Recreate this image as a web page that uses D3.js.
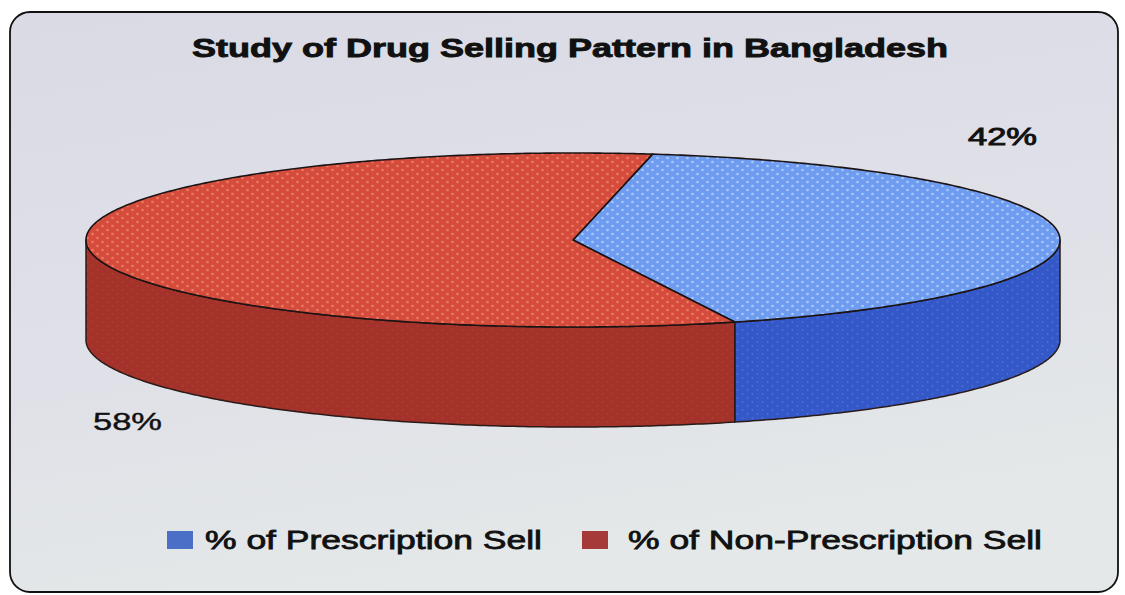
<!DOCTYPE html>
<html>
<head>
<meta charset="utf-8">
<script src="https://cdn.jsdelivr.net/npm/d3@7/dist/d3.min.js"></script>
<style>
  html, body { margin: 0; padding: 0; background: #ffffff; }
  svg { display: block; }
  text { font-family: "Liberation Sans", Arial, sans-serif; fill: #111; }
</style>
</head>
<body>
<svg id="chart" width="1125" height="595"></svg>
<script>
// Chart data
const title = "Study of Drug Selling Pattern in Bangladesh";
const categories = ["% of Prescription Sell", "% of Non-Prescription Sell"];
const values = [42, 58];
const valueLabels = ["42%", "58%"];

// Slice styling: top face, side face, dot highlight, legend swatch
const topColors = ["#6e9cf0", "#d64c3c"];
const sideColors = ["#3458c8", "#a2322a"];
const dotColors = ["#b4cff8", "#ea8166"];
const swatchColors = ["#4b6fc6", "#a63a38"];

const W = 1125, H = 595;
const svg = d3.select("#chart");
const defs = svg.append("defs");

// Panel background
const bg = defs.append("linearGradient").attr("id", "bgGrad")
  .attr("x1", 0).attr("y1", 0).attr("x2", 0.3).attr("y2", 1);
bg.append("stop").attr("offset", "0%").attr("stop-color", "#d9dae4");
bg.append("stop").attr("offset", "55%").attr("stop-color", "#dfe0e8");
bg.append("stop").attr("offset", "100%").attr("stop-color", "#e4e8e8");

svg.append("rect")
  .attr("x", 10).attr("y", 12).attr("width", 1108).attr("height", 580)
  .attr("rx", 20).attr("ry", 20)
  .attr("fill", "url(#bgGrad)")
  .attr("stroke", "#111").attr("stroke-width", 1.8);

// Dotted fill patterns for the pie faces
function dotPattern(id, base, dot, r, op) {
  const p = defs.append("pattern").attr("id", id)
    .attr("patternUnits", "userSpaceOnUse")
    .attr("width", 10).attr("height", 8);
  p.append("rect").attr("width", 10).attr("height", 8).attr("fill", base);
  p.append("circle").attr("cx", 2.5).attr("cy", 2).attr("r", r).attr("fill", dot).attr("opacity", op);
  p.append("circle").attr("cx", 7.5).attr("cy", 6).attr("r", r).attr("fill", dot).attr("opacity", op);
}
topColors.forEach((c, i) => dotPattern("top" + i, c, dotColors[i], 1.3, 0.9));
sideColors.forEach((c, i) => dotPattern("side" + i, c, topColors[i], 0.9, 0.35));

// 3D pie geometry
const cx = 573, cy = 240, rx = 487, ry = 87, depth = 100;
const rotation = 9.4 * Math.PI / 180;

const pie = d3.pie().sort(null)
  .startAngle(rotation).endAngle(rotation + 2 * Math.PI);
const arcs = pie(values);

// Angle -> projected point on the top ellipse (clockwise from 12 o'clock)
const sx = d3.scaleLinear().domain([-1, 1]).range([cx - rx, cx + rx]);
const sy = d3.scaleLinear().domain([-1, 1]).range([cy - ry, cy + ry]);
const pt = (a, dz = 0) => [sx(Math.sin(a)), sy(-Math.cos(a)) + dz];

function sampleArc(a0, a1, dz) {
  const n = Math.max(2, Math.ceil(Math.abs(a1 - a0) / 0.01));
  return d3.range(n + 1).map(k => pt(a0 + (a1 - a0) * k / n, dz));
}

const line = d3.line();
const g = svg.append("g");

// Front walls: the visible range runs from 3 o'clock (PI/2) to 9 o'clock (3PI/2)
arcs.forEach((d, i) => {
  [0, 2 * Math.PI].forEach(shift => {
    const lo = Math.max(d.startAngle, Math.PI / 2 + shift);
    const hi = Math.min(d.endAngle, 3 * Math.PI / 2 + shift);
    if (hi <= lo) return;
    const topEdge = sampleArc(lo, hi, 0);
    const botEdge = sampleArc(hi, lo, depth);
    g.append("path")
      .attr("d", line(topEdge.concat(botEdge)) + "Z")
      .attr("fill", "url(#side" + i + ")")
      .attr("stroke", "#2a1a18").attr("stroke-width", 1.5)
      .attr("stroke-linejoin", "round");
  });
});

// Top faces
arcs.forEach((d, i) => {
  const pts = [[cx, cy]].concat(sampleArc(d.startAngle, d.endAngle, 0));
  g.append("path")
    .attr("d", line(pts) + "Z")
    .attr("fill", "url(#top" + i + ")")
    .attr("stroke", "#1c1414").attr("stroke-width", 1.6)
    .attr("stroke-linejoin", "round");
});

// Title
svg.append("text")
  .attr("x", 192).attr("y", 57)
  .attr("font-size", 26).attr("font-weight", "bold")
  .attr("stroke", "#111").attr("stroke-width", 0.9)
  .attr("textLength", 756).attr("lengthAdjust", "spacingAndGlyphs")
  .text(title);

// Value labels
const labelPos = [
  { x: 968, y: 145 },
  { x: 93, y: 430 }
];
valueLabels.forEach((t, i) => {
  svg.append("text")
    .attr("x", labelPos[i].x).attr("y", labelPos[i].y)
    .attr("font-size", 24)
    .attr("stroke", "#111").attr("stroke-width", i === 0 ? 0.9 : 0.4)
    .attr("textLength", 69).attr("lengthAdjust", "spacingAndGlyphs")
    .text(t);
});

// Legend
const legendItems = [
  { sx: 167, tx: 205, tw: 337 },
  { sx: 582, tx: 628, tw: 414 }
];
categories.forEach((c, i) => {
  svg.append("rect")
    .attr("x", legendItems[i].sx).attr("y", 531)
    .attr("width", 26).attr("height", 18)
    .attr("fill", swatchColors[i]);
  svg.append("text")
    .attr("x", legendItems[i].tx).attr("y", 549)
    .attr("font-size", 26)
    .attr("stroke", "#111").attr("stroke-width", 0.8)
    .attr("textLength", legendItems[i].tw).attr("lengthAdjust", "spacingAndGlyphs")
    .text(c);
});
</script>
</body>
</html>
